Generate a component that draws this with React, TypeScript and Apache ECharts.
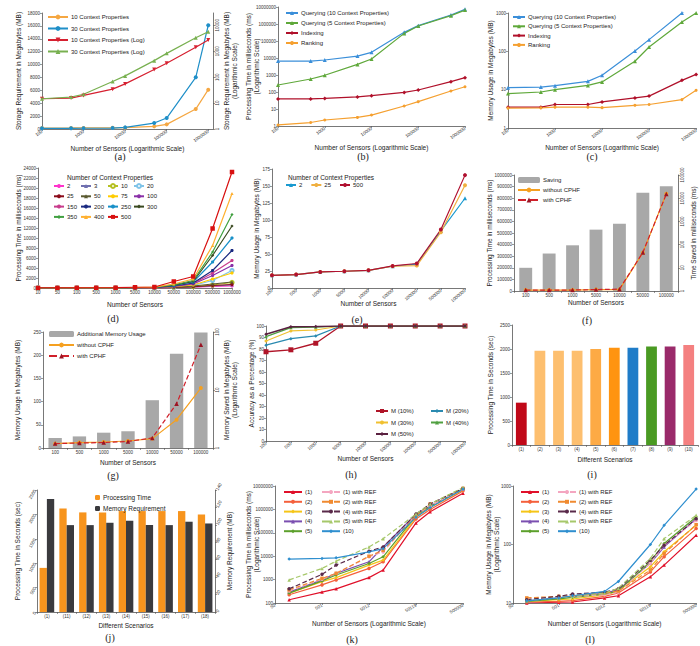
import React, { useEffect, useRef } from "react";
import * as echarts from "echarts";

// ---------- shared categories ----------
const SENSORS = [100, 500, 1000, 5000, 10000, 50000, 100000, 500000, 1000000];
const SENSOR_LABELS_9 = ["100", "500", "1000", "5000", "10000", "50000", "100000", "500000", "1000000"];
const SENSOR_LABELS_7 = ["100", "500", "1000", "5000", "10000", "50000", "100000"];
const SENSOR_LABELS_D = ["10", "50", "100", "500", "1000", "5000", "10000", "50000", "100000", "500000", "1000000"];
const SENSORS_KL = [100, 500, 1000, 5000, 10000, 50000, 100000, 500000];

// ---------- (a) ----------
const a10 = [150, 160, 170, 180, 200, 410, 720, 3090, 6100];
const a30 = [100, 110, 120, 150, 250, 925, 1700, 8020, 16100];
const a10Log = [14.7, 15.6, 19.7, 34.5, 55, 197, 345, 1430, 2740];
const a30Log = [14.7, 17, 22, 68, 112, 435, 830, 3350, 5700];

// ---------- (b) ----------
const bQuery10 = [6600, 6600, 7600, 13000, 21600, 323000, 800000, 3400000, 7300000];
const bQuery5 = [257, 580, 960, 4200, 8700, 280000, 760000, 3100000, 6600000];
const bIndexing = [39, 39, 42, 51, 61, 95, 131, 405, 700];
const bRanking = [1.15, 1.6, 2.25, 3.2, 4.4, 15, 27, 114, 205];

// ---------- (c) ----------
const cQuery10 = [11.3, 11.7, 12.7, 16.5, 23.7, 102, 202, 1000, 1800];
const cQuery5 = [7.9, 8.7, 10, 12.9, 15.9, 55, 130, 585, 1000];
const cIndexing = [3.5, 3.5, 4.1, 4.1, 4.8, 6.1, 6.8, 17.5, 25];
const cRanking = [3.3, 3.35, 3.5, 3.5, 3.4, 3.9, 4.1, 5.5, 9.6];

// ---------- (d) ----------
const dProps = ["2", "3", "10", "20", "25", "50", "75", "100", "150", "200", "250", "300", "350", "400", "500"];
const d2 = [0, 0, 0, 5, 10, 20, 30, 60, 150, 300, 400];
const d3 = [0, 0, 0, 5, 10, 20, 35, 80, 200, 400, 600];
const d10 = [0, 0, 0, 5, 10, 25, 40, 120, 300, 600, 1100];
const d20 = [0, 0, 0, 5, 15, 30, 60, 200, 500, 1500, 3500];
const d25 = [0, 0, 0, 5, 10, 20, 35, 100, 250, 500, 700];
const d50 = [0, 0, 0, 5, 10, 25, 50, 150, 400, 800, 1200];
const d75 = [0, 0, 0, 10, 15, 35, 70, 250, 600, 1800, 3000];
const d100 = [0, 0, 0, 10, 20, 40, 80, 300, 800, 2500, 4500];
const d150 = [0, 0, 0, 10, 20, 45, 90, 350, 900, 3000, 5500];
const d200 = [0, 0, 5, 10, 25, 50, 100, 400, 1000, 3500, 7500];
const d250 = [0, 0, 5, 15, 30, 60, 120, 500, 1200, 5200, 10000];
const d300 = [0, 0, 5, 15, 30, 70, 130, 550, 1300, 6500, 12400];
const d350 = [0, 5, 5, 20, 35, 80, 150, 650, 1500, 7200, 14700];
const d400 = [0, 5, 10, 20, 40, 100, 170, 800, 1800, 8500, 18900];
const d500 = [20, 30, 40, 50, 60, 150, 200, 1300, 2300, 11900, 23200];
const dValues = [d2, d3, d10, d20, d25, d50, d75, d100, d150, d200, d250, d300, d350, d400, d500];
const dColors = ["#ff33cc", "#7070b0", "#b5c022", "#80c4e8", "#8b0a1a", "#5a5a30", "#ffcc00", "#8a30a8", "#c83c8c", "#1a2a80", "#1890c8", "#3a4a20", "#40a040", "#ffb030", "#d81010"];
const dSymbols = ["circle", "triangle", "emptyCircle", "emptyCircle", "circle", "triangle", "circle", "circle", "circle", "circle", "circle", "diamond", "diamond", "triangle", "rect"];

// ---------- (e) ----------
const e2 = [18.7, 19.7, 23.6, 24.6, 26, 32, 35, 84, 132];
const e25 = [18.7, 19.7, 23.6, 24.6, 26, 32, 33, 82, 151];
const e500 = [18.7, 19.7, 23.6, 24.6, 26, 32.5, 36, 86, 166];

// ---------- (f) ----------
const fSaving = [200000, 323000, 394000, 529000, 580000, 846000, 903000];
const fWithout = [1.1, 1.1, 1.1, 1.15, 1.15, 45, 15400];
const fWith = [1.1, 1.1, 1.1, 1.15, 1.2, 46, 15000];

// ---------- (g) ----------
const gAdditional = [21.5, 25, 33, 36, 103, 203, 249];
const gWithout = [1.19, 1.24, 1.27, 1.32, 1.45, 3.08, 10.8];
const gWith = [1.19, 1.22, 1.24, 1.3, 1.49, 5.8, 60];

// ---------- (h) ----------
const hM10 = [77.6, 79.3, 85, 100, 100, 100, 100, 100, 100];
const hM20 = [83.3, 89, 91.4, 100, 100, 100, 100, 100, 100];
const hM30 = [87, 95.7, 96.5, 100, 100, 100, 100, 100, 100];
const hM40 = [90.8, 98.6, 99.1, 100, 100, 100, 100, 100, 100];
const hM50 = [92.8, 99.4, 99.6, 100, 100, 100, 100, 100, 100];

// ---------- (i) ----------
const iScenarios = ["(1)", "(2)", "(3)", "(4)", "(5)", "(6)", "(7)", "(8)", "(9)", "(10)"];
const iTime = [882, 1965, 1965, 1965, 2000, 2028, 2028, 2050, 2050, 2083];
const iColors = ["#c00818", "#fdbf6f", "#fdbf6f", "#fdbf6f", "#fdaa45", "#ff9410", "#1f7cc8", "#4a9a22", "#9a2a6a", "#f48080"];

// ---------- (j) ----------
const jScenarios = ["(1)", "(11)", "(12)", "(13)", "(14)", "(15)", "(16)", "(17)", "(18)"];
const jTime = [904, 2123, 2041, 2041, 2068, 2068, 2068, 2068, 2000];
const jMemory = [129.6, 99.7, 99.7, 102.4, 104.7, 99.7, 99.7, 103.6, 101.6];

// ---------- (k) ----------
const klNames = ["(1)", "(2)", "(3)", "(4)", "(5)", "(1) with REF", "(2) with REF", "(4) with REF", "(5) with REF", "(10)"];
const klColors = ["#e0102a", "#f4603c", "#f5c518", "#7b4fb0", "#5ca02c", "#f4a6c0", "#f08a30", "#5a2a4a", "#a6c86a", "#2f8fcf"];
const klSymbols = ["triangle", "circle", "diamond", "triangle", "diamond", "circle", "rect", "circle", "triangle", "diamond"];
const klDashed = [false, false, false, false, false, true, true, true, true, false];
const k1 = [138, 292, 403, 1216, 2560, 264000, 795000, 4900000];
const k2 = [225, 595, 970, 3000, 5760, 390000, 1000000, 6200000];
const k3 = [265, 822, 1216, 4170, 6800, 457000, 1200000, 6800000];
const k4 = [292, 970, 1850, 5760, 24800, 630000, 1400000, 7300000];
const k5 = [265, 880, 1570, 4900, 9400, 540000, 1340000, 7300000];
const k1r = [330, 1030, 1850, 9400, 15300, 580000, 1400000, 7300000];
const k2r = [366, 1130, 1850, 10000, 17900, 540000, 1700000, 7900000];
const k4r = [403, 1680, 4170, 16300, 24800, 630000, 1700000, 7900000];
const k5r = [970, 3000, 6150, 24800, 56000, 630000, 1700000, 8600000];
const k10 = [7500, 8000, 8500, 15300, 21000, 457000, 1200000, 7300000];
const kValues = [k1, k2, k3, k4, k5, k1r, k2r, k4r, k5r, k10];

// ---------- (l) ----------
const l1 = [10, 10.3, 10.4, 12.2, 13.3, 28, 44.5, 144];
const l2 = [10.4, 10.7, 11, 13, 14.8, 34, 62, 187];
const l3 = [10.7, 11.4, 11.7, 13.8, 16, 41.7, 75, 213];
const l4 = [10.9, 12.2, 13, 14.8, 16.8, 47.6, 91, 275];
const l5 = [10.7, 11.8, 12.5, 14.2, 16, 50.8, 104, 295];
const l1r = [11.4, 12.5, 13, 13.8, 15.3, 47.6, 97, 258];
const l2r = [12.2, 13, 13.3, 14.8, 16, 36.7, 70, 218];
const l4r = [11.4, 13, 14.2, 15.3, 17.5, 54, 97, 275];
const l5r = [10.9, 12.2, 13, 14.8, 17.9, 57.9, 126, 315];
const l10 = [10.9, 12.2, 13.3, 15.8, 23.3, 100, 213, 885];
const lValues = [l1, l2, l3, l4, l5, l1r, l2r, l4r, l5r, l10];

// ---------- builder ----------
const FONT = "'Liberation Sans', Arial, Helvetica, sans-serif";
const AX = "#555";
const fmtInt = (v: number) => String(Math.round(v));
const fmtPow = (v: number) => String(Math.round(Math.pow(10, v)));

function buildOption() {
  const grid: any[] = [];
  const xAxis: any[] = [];
  const yAxis: any[] = [];
  const series: any[] = [];
  const legend: any[] = [];
  const graphic: any[] = [];

  const axis = (cfg: any) => {
    const { axisLabel, ...rest } = cfg;
    const defFmt = cfg.type === "category" ? {} : { formatter: fmtInt };
    return {
      splitLine: { show: false },
      axisLine: { show: true, onZero: false, lineStyle: { color: AX, width: 0.8 } },
      axisTick: { show: true, length: 2, lineStyle: { color: AX, width: 0.6 } },
      nameLocation: "middle",
      nameMoveOverlap: false,
      nameTextStyle: { fontSize: 6.5, color: "#222", fontFamily: FONT, lineHeight: 8 },
      ...rest,
      axisLabel: { fontSize: 4.5, color: "#333", fontFamily: FONT, margin: 2, ...defFmt, ...(axisLabel || {}) },
    };
  };
  const addGrid = (left: number, top: number, width: number, height: number) => {
    grid.push({ left, top, width, height });
    return grid.length - 1;
  };
  const addX = (gi: number, cfg: any) => {
    xAxis.push({ gridIndex: gi, ...axis(cfg) });
    return xAxis.length - 1;
  };
  const addY = (gi: number, cfg: any) => {
    yAxis.push({ gridIndex: gi, nameRotate: 90, ...axis(cfg) });
    return yAxis.length - 1;
  };
  const line = (name: string, xi: number, yi: number, data: any[], color: string, o: any = {}) => {
    series.push({
      type: "line",
      name,
      xAxisIndex: xi,
      yAxisIndex: yi,
      data,
      symbol: o.symbol || "circle",
      symbolSize: o.size ?? 4,
      symbolRotate: o.rotate || 0,
      lineStyle: { color, width: o.width ?? 1.2, type: o.dash ? "dashed" : "solid" },
      itemStyle: { color: o.markColor || color },
      clip: true,
      z: o.z ?? 2,
    });
  };
  const leg = (names: string[], left: number, top: number, o: any = {}) => {
    legend.push({
      left,
      top,
      orient: o.orient || "vertical",
      padding: 0,
      itemWidth: o.iw ?? 16,
      itemHeight: o.ih ?? 5,
      itemGap: o.gap ?? 4,
      selectedMode: false,
      data: names,
      formatter: (n: string) => n.split("|")[0],
      textStyle: { fontSize: o.fs ?? 6, color: "#222", fontFamily: FONT, padding: [0, 0, 0, -2] },
    });
  };
  const caption = (text: string, x: number, y: number) => {
    graphic.push({
      type: "text",
      x,
      y,
      style: { text, font: "10px 'Liberation Serif', 'DejaVu Serif', serif", fill: "#222", align: "center", verticalAlign: "middle", textAlign: "center", textVerticalAlign: "middle" },
    });
  };
  const note = (text: string, x: number, y: number) => {
    graphic.push({
      type: "text",
      x,
      y,
      style: { text, font: `6.5px ${FONT}`, fill: "#222", align: "center", verticalAlign: "middle", textAlign: "center", textVerticalAlign: "middle" },
    });
  };
  const pairs = (xs: number[], ys: number[]) => xs.map((x, i) => [x, ys[i]]);
  const logPairs = (xs: number[], ys: number[]) => xs.map((x, i) => [Math.log10(x), ys[i]]);

  // ===== (a) =====
  {
    const g = addGrid(42, 13, 171, 116);
    const x = addX(g, { type: "log", min: 100, max: 1300000, name: "Number of Sensors (Logarithmic Scale)", nameGap: 15, axisLabel: { rotate: 35, showMaxLabel: false } });
    const y = addY(g, { type: "value", min: 0, max: 18000, interval: 2000, name: "Storage Requirement in Megabytes (MB)", nameGap: 20 });
    const y2 = addY(g, { type: "log", min: 1, max: 30000, position: "right", name: "Storage Requirement in Megabytes (MB)\n(Logarithmic Scale)", nameGap: 9, axisLabel: { rotate: 90, showMaxLabel: false } });
    line("10 Context Properties|a", x, y, pairs(SENSORS, a10), "#f5a742", { symbol: "circle" });
    line("30 Context Properties|a", x, y, pairs(SENSORS, a30), "#1f8fc8", { symbol: "circle" });
    line("10 Context Properties (Log)|a", x, y2, pairs(SENSORS, a10Log), "#d62030", { symbol: "triangle", rotate: 180 });
    line("30 Context Properties (Log)|a", x, y2, pairs(SENSORS, a30Log), "#78b050", { symbol: "triangle" });
    leg(["10 Context Properties|a", "30 Context Properties|a", "10 Context Properties (Log)|a", "30 Context Properties (Log)|a"], 47, 14, { iw: 20, ih: 6, gap: 5.5 });
    caption("(a)", 120, 156);
  }

  // ===== (b) =====
  {
    const g = addGrid(278, 7, 187, 119);
    const x = addX(g, { type: "log", min: 100, max: 1000000, name: "Number of Sensors (Logarithmic Scale)", nameGap: 17, axisLabel: { rotate: 35 } });
    const y = addY(g, { type: "log", min: 1, max: 10000000, name: "Processing Time in milliseconds (ms)\n(Logarithmic Scale)", nameGap: 18 });
    line("Querying (10 Context Properties)|b", x, y, pairs(SENSORS, bQuery10), "#3b8fd9", { symbol: "triangle" });
    line("Querying (5 Context Properties)|b", x, y, pairs(SENSORS, bQuery5), "#5fa83a", { symbol: "triangle" });
    line("Indexing|b", x, y, pairs(SENSORS, bIndexing), "#b0102a", { symbol: "diamond" });
    line("Ranking|b", x, y, pairs(SENSORS, bRanking), "#f5a030", { symbol: "circle", size: 3 });
    leg(["Querying (10 Context Properties)|b", "Querying (5 Context Properties)|b", "Indexing|b", "Ranking|b"], 285, 10, { iw: 12, ih: 5, gap: 4 });
    caption("(b)", 363, 156);
  }

  // ===== (c) =====
  {
    const g = addGrid(508, 13, 196, 115);
    const x = addX(g, { type: "log", min: 100, max: 1000000, name: "Number of Sensors (Logarithmic Scale)", nameGap: 15, axisLabel: { rotate: 35 } });
    const y = addY(g, { type: "log", min: 1, max: 1000, name: "Memory Usage in Megabytes (MB)", nameGap: 14 });
    line("Querying (10 Context Properties)|c", x, y, pairs(SENSORS, cQuery10), "#3b8fd9", { symbol: "triangle" });
    line("Querying (5 Context Properties)|c", x, y, pairs(SENSORS, cQuery5), "#5fa83a", { symbol: "triangle" });
    line("Indexing|c", x, y, pairs(SENSORS, cIndexing), "#b0102a", { symbol: "diamond" });
    line("Ranking|c", x, y, pairs(SENSORS, cRanking), "#f5a030", { symbol: "circle", size: 3 });
    leg(["Querying (10 Context Properties)|c", "Querying (5 Context Properties)|c", "Indexing|c", "Ranking|c"], 512, 14, { iw: 12, ih: 5, gap: 3.3 });
    caption("(c)", 592, 156);
  }

  // ===== (d) =====
  {
    const g = addGrid(38, 168, 194, 120);
    const x = addX(g, { type: "category", boundaryGap: false, data: SENSOR_LABELS_D, name: "Number of Sensors", nameGap: 12, axisLabel: { interval: 0 } });
    const y = addY(g, { type: "value", min: 0, max: 24000, interval: 2000, name: "Processing Time in milliseconds (ms)", nameGap: 16 });
    dProps.forEach((p, i) => {
      line(p + "|d", x, y, dValues[i], dColors[i], { symbol: dSymbols[i], size: p === "500" ? 4.5 : 3.2, z: 2 + i });
    });
    const cols = [["2", "25", "150", "350"], ["3", "50", "200", "400"], ["10", "75", "250", "500"], ["20", "100", "300"]];
    const lefts = [53, 80, 107, 133];
    cols.forEach((c, i) => leg(c.map((n) => n + "|d"), lefts[i], 183, { iw: 10, ih: 5, gap: 4.3, fs: 6 }));
    note("Number of Context Properties", 110, 177);
    caption("(d)", 113, 318);
  }

  // ===== (e) =====
  {
    const g = addGrid(272, 169, 193, 119);
    const x = addX(g, { type: "category", boundaryGap: false, data: SENSOR_LABELS_9, name: "Number of Sensors", nameGap: 11, axisLabel: { interval: 0, rotate: 40 } });
    const y = addY(g, { type: "value", min: 0, max: 175, interval: 25, name: "Memory Usage in Megabytes (MB)", nameGap: 12 });
    line("2|e", x, y, e2, "#1a9ad0", { symbol: "triangle" });
    line("25|e", x, y, e25, "#f0b040", { symbol: "circle" });
    line("500|e", x, y, e500, "#b01030", { symbol: "circle" });
    leg(["2|e", "25|e", "500|e"], 285, 182, { orient: "horizontal", iw: 10, ih: 5, gap: 8 });
    note("Number of Context Properties", 331, 177);
    caption("(e)", 357, 319);
  }

  // ===== (f) =====
  {
    const g = addGrid(514, 175, 164, 116);
    const x = addX(g, { type: "category", data: SENSOR_LABELS_7, name: "Number of Sensors", nameGap: 7, axisLabel: { interval: 0 } });
    const y = addY(g, { type: "value", min: 0, max: 1000000, interval: 100000, name: "Processing Time in milliseconds (ms)", nameGap: 21 });
    const y2 = addY(g, { type: "log", min: 1, max: 100000, position: "right", name: "Time Saved in milliseconds (ms)", nameGap: 11, axisLabel: { rotate: 90 } });
    series.push({ type: "bar", name: "Saving|f", xAxisIndex: x, yAxisIndex: y, data: fSaving, barWidth: "55%", itemStyle: { color: "#a8a8a8" }, z: 1 });
    line("without CPHF|f", x, y2, fWithout, "#f5a020", { symbol: "circle", size: 4, z: 3 });
    line("with CPHF|f", x, y2, fWith, "#d0202a", { symbol: "triangle", size: 4.5, dash: true, markColor: "#9a1424", z: 4 });
    leg(["Saving|f", "without CPHF|f", "with CPHF|f"], 517, 177, { iw: 22, ih: 6, gap: 4 });
    caption("(f)", 587, 320);
  }

  // ===== (g) =====
  {
    const g = addGrid(43, 332, 170, 116);
    const x = addX(g, { type: "category", data: SENSOR_LABELS_7, name: "Number of Sensors", nameGap: 10, axisLabel: { interval: 0 } });
    const y = addY(g, { type: "value", min: 0, max: 250, interval: 50, name: "Memory Usage in Megabytes (MB)", nameGap: 22 });
    const y2 = addY(g, { type: "log", min: 1, max: 100, position: "right", name: "Memory Saved in Megabytes (MB)\n(Logarithmic Scale)", nameGap: 9, axisLabel: { rotate: 90 } });
    series.push({ type: "bar", name: "Additional Memory Usage|g", xAxisIndex: x, yAxisIndex: y, data: gAdditional, barWidth: "55%", itemStyle: { color: "#a8a8a8" }, z: 1 });
    line("without CPHF|g", x, y2, gWithout, "#f5a020", { symbol: "circle", size: 4, z: 3 });
    line("with CPHF|g", x, y2, gWith, "#d0202a", { symbol: "triangle", size: 4.5, dash: true, markColor: "#9a1424", z: 4 });
    leg(["Additional Memory Usage|g", "without CPHF|g", "with CPHF|g"], 48, 331, { iw: 25, ih: 6, gap: 5 });
    caption("(g)", 113, 475);
  }

  // ===== (h) =====
  {
    const g = addGrid(266, 326, 199, 115);
    const x = addX(g, { type: "category", boundaryGap: false, data: SENSOR_LABELS_9, name: "Number of Sensors", nameGap: 13, axisLabel: { interval: 0, rotate: 40 } });
    const y = addY(g, { type: "value", min: 0, max: 100, interval: 10, name: "Accuracy as a Percentage (%)", nameGap: 11 });
    line("M (10%)|h", x, y, hM10, "#b01428", { symbol: "rect", size: 5, width: 1.3 });
    line("M (20%)|h", x, y, hM20, "#2a8ab0", { symbol: "diamond", size: 3.5 });
    line("M (30%)|h", x, y, hM30, "#f0c030", { symbol: "circle", size: 3 });
    line("M (40%)|h", x, y, hM40, "#50a040", { symbol: "triangle", size: 3.5 });
    line("M (50%)|h", x, y, hM50, "#5a2040", { symbol: "diamond", size: 3.5, width: 1.6, z: 6 });
    leg(["M (10%)|h", "M (30%)|h", "M (50%)|h"], 375, 408, { iw: 12, ih: 5, gap: 5.5 });
    leg(["M (20%)|h", "M (40%)|h"], 430, 408, { iw: 12, ih: 5, gap: 5.5 });
    caption("(h)", 351, 474);
  }

  // ===== (i) =====
  {
    const g = addGrid(512, 325, 186, 120);
    const x = addX(g, { type: "category", data: iScenarios, name: "Different Scenarios", nameGap: 10, axisLabel: { interval: 0 } });
    const y = addY(g, { type: "value", min: 0, max: 2500, interval: 500, name: "Processing Time in Seconds (sec)", nameGap: 18 });
    series.push({ type: "bar", name: "time|i", xAxisIndex: x, yAxisIndex: y, barWidth: "58%", data: iTime.map((v, k) => ({ value: v, itemStyle: { color: iColors[k] } })) });
    caption("(i)", 592, 474);
  }

  // ===== (j) =====
  {
    const g = addGrid(37, 490, 178, 122);
    const x = addX(g, { type: "category", data: jScenarios, name: "Different Scenarios", nameGap: 9, axisLabel: { interval: 0 } });
    const y = addY(g, { type: "value", min: 0, max: 2500, interval: 500, name: "Processing Time in Seconds (sec)", nameGap: 16, axisLabel: { rotate: 60 } });
    const y2 = addY(g, { type: "value", min: 0, max: 140, interval: 20, position: "right", name: "Memory Requirement (MB)", nameGap: 10, axisLabel: { rotate: 60 } });
    series.push({ type: "bar", name: "Processing Time|j", xAxisIndex: x, yAxisIndex: y, data: jTime, barGap: "0%", barCategoryGap: "26%", itemStyle: { color: "#f7941d" } });
    series.push({ type: "bar", name: "Memory Requirement|j", xAxisIndex: x, yAxisIndex: y2, data: jMemory, barGap: "0%", barCategoryGap: "26%", itemStyle: { color: "#3a3a3e" } });
    leg(["Processing Time|j", "Memory Requirement|j"], 95, 494, { iw: 5, ih: 5, gap: 4, fs: 6.5 });
    caption("(j)", 110, 637);
  }

  // ===== (k) =====
  {
    const g = addGrid(275, 486, 188, 117);
    const x = addX(g, { type: "value", min: Math.log10(50), max: Math.log10(500000), interval: 1, name: "Number of Sensors (Logarithmic Scale)", nameGap: 16, axisLabel: { rotate: 30, formatter: fmtPow } });
    const y = addY(g, { type: "log", min: 100, max: 10000000, name: "Processing Time in milliseconds (ms)\n(Logarithmic Scale)", nameGap: 15 });
    klNames.forEach((n, i) => line(n + "|k", x, y, logPairs(SENSORS_KL, kValues[i]), klColors[i], { symbol: klSymbols[i], size: 3.5, dash: klDashed[i] }));
    leg(klNames.slice(0, 5).map((n) => n + "|k"), 283, 489, { iw: 18, ih: 5, gap: 3.8 });
    leg(klNames.slice(5).map((n) => n + "|k"), 321, 489, { iw: 18, ih: 5, gap: 3.8 });
    caption("(k)", 352, 639);
  }

  // ===== (l) =====
  {
    const g = addGrid(513, 486, 188, 117);
    const x = addX(g, { type: "value", min: Math.log10(50), max: Math.log10(500000), interval: 1, name: "Number of Sensors (Logarithmic Scale)", nameGap: 16, axisLabel: { rotate: 30, formatter: fmtPow } });
    const y = addY(g, { type: "log", min: 10, max: 1000, name: "Memory Usage in Megabytes (MB)\n(Logarithmic Scale)", nameGap: 13 });
    klNames.forEach((n, i) => line(n + "|l", x, y, logPairs(SENSORS_KL, lValues[i]), klColors[i], { symbol: klSymbols[i], size: 3.5, dash: klDashed[i] }));
    leg(klNames.slice(0, 5).map((n) => n + "|l"), 520, 489, { iw: 18, ih: 5, gap: 3.8 });
    leg(klNames.slice(5).map((n) => n + "|l"), 557, 489, { iw: 18, ih: 5, gap: 3.8 });
    caption("(l)", 590, 639);
  }

  return {
    animation: false,
    backgroundColor: "#ffffff",
    textStyle: { fontFamily: FONT },
    grid,
    xAxis,
    yAxis,
    series,
    legend,
    graphic,
  };
}

export default function App() {
  const ref = useRef<HTMLDivElement>(null);
  useEffect(() => {
    if (!ref.current) return;
    const chart = echarts.init(ref.current, null, { renderer: "svg" });
    chart.setOption(buildOption() as any);
    return () => chart.dispose();
  }, []);
  return <div ref={ref} style={{ position: "absolute", left: 0, top: 0, width: 700, height: 646, background: "#fff" }} />;
}
